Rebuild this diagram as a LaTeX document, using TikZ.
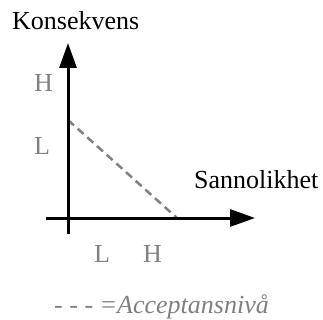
\documentclass[tikz,border=0pt]{standalone}
\usepackage{fontspec}
\setmainfont{Liberation Serif}
\usetikzlibrary{arrows.meta}
\definecolor{lblgray}{HTML}{808080}
\tikzset{
  axisline/.style={line width=3pt, -{Triangle[length=25pt,width=17pt]}},
  acceptline/.style={line width=2.5pt, lblgray, dash pattern=on 8pt off 5pt},
  title/.style={inner sep=0pt, anchor=base west, font=\fontsize{26}{30}\selectfont},
  tick/.style={inner sep=0pt, anchor=base west, text=lblgray, font=\fontsize{26}{30}\selectfont},
  legend/.style={inner sep=0pt, anchor=base west, text=lblgray, font=\fontsize{26}{30}\selectfont\itshape}
}
\begin{document}
\begin{tikzpicture}[x=1pt,y=-1pt]
\useasboundingbox (0,0) rectangle (323,320);
\node[title] (ylab) at (12,30) {Konsekvens};
\node[title] (xlab) at (194,188) {Sannolikhet};
\node[tick] (yH) at (34,92) {H};
\node[tick] (yL) at (34,155) {L};
\node[tick] (xL) at (94,262) {L};
\node[tick] (xH) at (143,262) {H};
\node[legend] (leg) at (54,313) {- - - =Acceptansnivå};
\coordinate (yb) at (68,234);
\coordinate (yt) at (68,43);
\coordinate (xa) at (46,218);
\coordinate (xt) at (255,218);
\coordinate (da) at (68,120);
\coordinate (db) at (177,218);
\draw[acceptline] (da) -- (db);
\draw[axisline] (yb) -- (yt);
\draw[axisline] (xa) -- (xt);
\end{tikzpicture}
\end{document}
